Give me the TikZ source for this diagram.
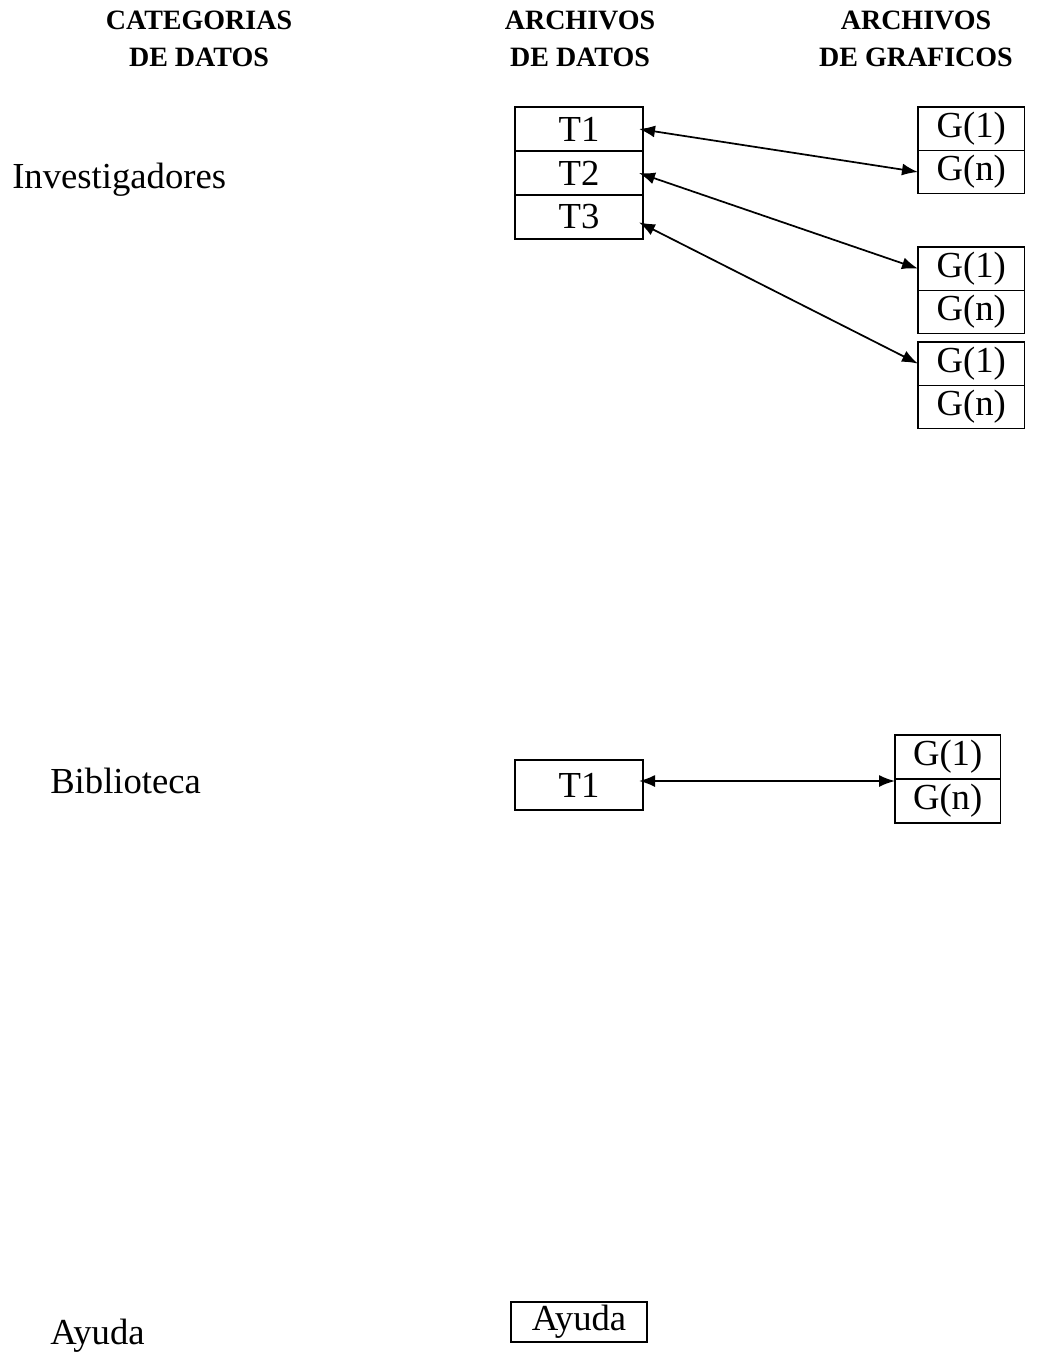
\documentclass[tikz,border=0pt]{standalone}
\usepackage{fontspec}
\setmainfont{Liberation Serif}
\usetikzlibrary{positioning,arrows.meta}
\tikzset{
  head/.style={font=\fontsize{21}{27.75}\selectfont\bfseries, align=center, inner sep=0pt},
  lbl/.style={font=\fontsize{27.5}{30}\selectfont, inner sep=0pt, anchor=west},
  tbox/.style={draw, line width=1.1pt, outer sep=0pt, font=\fontsize{27.5}{30}\selectfont, inner sep=0pt,
    minimum width=96pt, minimum height=33pt},
  gbox/.style={draw, line width=1.1pt, outer sep=0pt, font=\fontsize{27.5}{30}\selectfont, inner sep=0pt,
    minimum width=80pt, minimum height=32.5pt},
  link/.style={{Latex[length=12pt,width=9pt]}-{Latex[length=12pt,width=9pt]}, line width=1.3pt}
}
\begin{document}
\begin{tikzpicture}[x=0.75pt,y=-0.75pt]
    \useasboundingbox (0,0) rectangle (1036,1360);

    % column headers
    \node[head] (hcat) at (199,39) {CATEGORIAS\\DE DATOS};
    \node[head] (hdat) at (580,39) {ARCHIVOS\\DE DATOS};
    \node[head] (hgra) at (916,39) {ARCHIVOS\\DE GRAFICOS};

    % investigadores
    \node[lbl] (inv) at (12,180) {Investigadores};
    \node[tbox, anchor=north west] (it1) at (515,107) {T1};
    \node[tbox, below=0pt of it1] (it2) {T2};
    \node[tbox, below=0pt of it2] (it3) {T3};

    \node[gbox, anchor=north west] (ga1) at (918,107) {G(1)};
    \node[gbox, below=0pt of ga1] (gan) {G(n)};
    \node[gbox, anchor=north west] (gb1) at (918,247) {G(1)};
    \node[gbox, below=0pt of gb1] (gbn) {G(n)};
    \node[gbox, anchor=north west] (gc1) at (918,342) {G(1)};
    \node[gbox, below=0pt of gc1] (gcn) {G(n)};

    \draw[link] ([xshift=-3pt]it1.east) -- (gan.west);
    \draw[link] ([xshift=-3pt]it2.east) -- (gb1.west);
    \draw[link] ([xshift=-3pt,yshift=-4pt]it3.east) -- (gc1.west);

    % biblioteca
    \node[lbl] (bib) at (50,781) {Biblioteca};
    \node[tbox, minimum height=37.5pt, anchor=west] (bt1) at (515,785) {T1};
    \node[gbox, minimum width=79pt, minimum height=33pt, anchor=south west] (bg1) at (895,779) {G(1)};
    \node[gbox, minimum width=79pt, minimum height=33pt, below=0pt of bg1] (bgn) {G(n)};

    \draw[link] ([xshift=-3pt,yshift=3pt]bt1.east) -- ([yshift=3pt]bt1.east -| bgn.north west);

    % ayuda
    \node[lbl] (ayu) at (50,1336) {Ayuda};
    \node[tbox, minimum width=102pt, minimum height=30pt] (ayb) at (579,1322) {Ayuda};
\end{tikzpicture}
\end{document}
